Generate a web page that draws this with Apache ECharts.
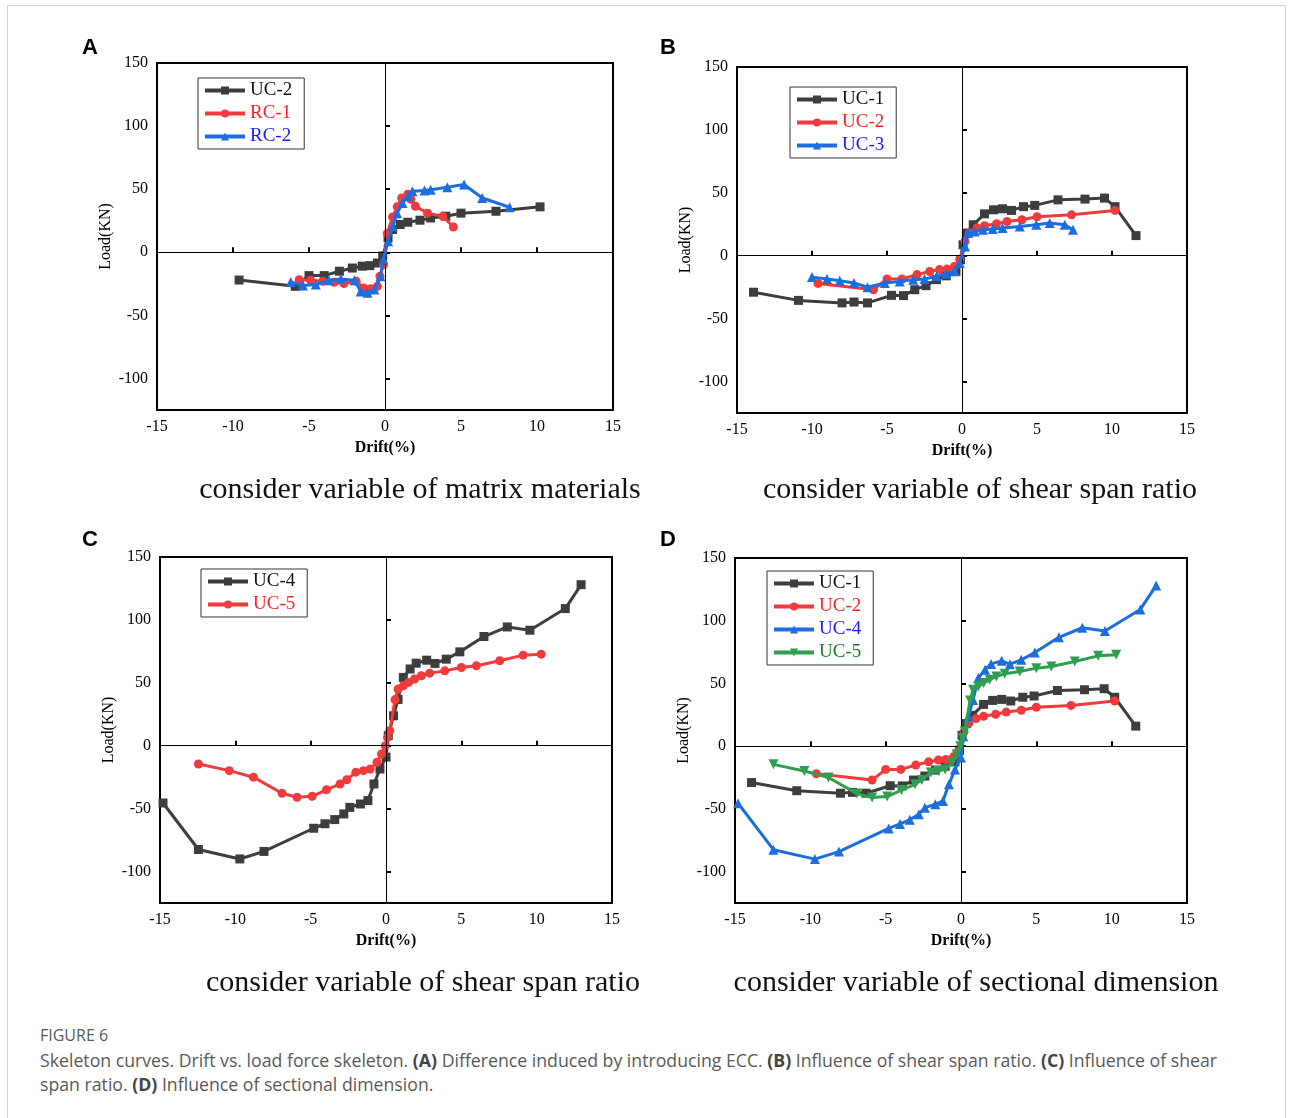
<!DOCTYPE html>
<html>
<head>
<meta charset="utf-8">
<script src="https://cdn.jsdelivr.net/npm/echarts@6/dist/echarts.min.js"></script>
<style>
  body { margin: 0; background: #fff; }
  .frame { position: absolute; left: 7px; top: 5px; width: 1277px; height: 1200px; border: 1px solid #d4d4d4; }
  #chart { position: absolute; left: 0; top: 0; width: 1291px; height: 1010px; }
  .caption { position: absolute; left: 40px; top: 1022px; font-family: 'Open Sans', sans-serif; color: #595959; white-space: nowrap; }
  .caption .fig { font-size: 16px; line-height: 26px; }
  .caption .txt { font-size: 17.7px; line-height: 24px; }
  .caption b { color: #444; }
</style>
</head>
<body>
<div class="frame"></div>
<div id="chart"></div>
<div class="caption">
  <div class="fig">FIGURE 6</div>
  <div class="txt">Skeleton curves. Drift vs. load force skeleton. <b>(A)</b> Difference induced by introducing ECC. <b>(B)</b> Influence of shear span ratio. <b>(C)</b> Influence of shear<br>span ratio. <b>(D)</b> Influence of sectional dimension.</div>
</div>
<script>
// drift (%) , load (kN)
var uc1 = [[-13.9,-29],[-10.9,-35.5],[-8.0,-37.5],[-7.2,-36.8],[-6.3,-37.5],[-4.7,-31.5],[-3.9,-31.7],[-3.15,-27],[-2.4,-23.8],[-1.7,-19],[-1.05,-16],[-0.4,-12.4],[-0.1,-3.2],[0.07,8.7],[0.35,18],[0.75,24.6],[1.5,33.3],[2.1,36.5],[2.7,37.3],[3.3,36],[4.1,39],[4.85,40],[6.4,44.4],[8.2,45],[9.5,45.8],[10.2,39],[11.6,16]]
var uc2 = [[-9.6,-22],[-5.9,-27],[-5.0,-18.5],[-4.0,-18.5],[-3.0,-15],[-2.15,-12.5],[-1.5,-11],[-1.0,-10.6],[-0.5,-8.5],[-0.15,-3],[0.2,11.4],[0.5,18],[1.0,22],[1.5,23.8],[2.3,25.4],[3.0,27.2],[4.0,28.6],[5.0,31],[7.3,32.5],[10.2,36]]
var uc3 = [[-10.0,-17],[-9.0,-18.5],[-8.15,-19.8],[-7.2,-21.7],[-6.3,-25],[-5.15,-21.7],[-4.15,-20.4],[-3.25,-19],[-2.5,-18.5],[-1.7,-16.4],[-1.05,-14.3],[-0.5,-12.4],[-0.15,-5.8],[0.2,7.4],[0.4,18],[0.85,19.3],[1.4,20.6],[2.05,21.2],[2.7,22],[3.85,23.3],[4.95,24.6],[5.85,26],[6.85,24.6],[7.4,20.6]]
var uc4 = [[-14.8,-45.5],[-12.45,-82.5],[-9.7,-90],[-8.1,-84],[-4.8,-65.6],[-4.05,-62],[-3.4,-58.7],[-2.8,-54.2],[-2.4,-49],[-1.7,-46.3],[-1.2,-43.6],[-0.8,-30.4],[-0.4,-18.5],[0,-9],[0.15,8],[0.5,23.8],[0.8,36.8],[1.15,54.3],[1.6,61],[2.0,65.6],[2.7,68],[3.25,65.4],[4.0,68.8],[4.9,74.6],[6.5,86.8],[8.05,94.4],[9.55,91.8],[11.9,109],[12.95,128]]
var uc5 = [[-12.45,-14.5],[-10.4,-19.8],[-8.8,-25],[-6.9,-37.8],[-5.9,-41],[-4.9,-40.2],[-3.95,-35],[-3.05,-30.4],[-2.6,-27],[-2.0,-21],[-1.5,-19.8],[-1.05,-18.5],[-0.6,-13.2],[-0.3,-6.6],[-0.05,0],[0.1,6.6],[0.25,12],[0.6,36.5],[0.8,45],[1.15,47.6],[1.5,50.3],[1.9,53],[2.35,55.6],[2.9,57.7],[3.9,59.5],[5.0,62.2],[6.0,63.5],[7.55,67.5],[9.1,72],[10.3,72.8]]
var rc1 = [[-5.65,-21.7],[-4.9,-22.2],[-4.1,-23],[-3.35,-23.8],[-2.7,-24.8],[-1.9,-23],[-1.4,-28.3],[-0.95,-29],[-0.5,-27],[-0.33,-19],[-0.1,-9.8],[0.15,15],[0.5,28],[0.8,36],[1.1,43],[1.5,46],[1.7,42],[2.0,36.5],[2.8,31],[3.8,28.5],[4.5,20]]
var rc2 = [[-6.2,-23.5],[-5.4,-26.4],[-4.55,-25.6],[-3.7,-22.2],[-2.9,-21.1],[-2.0,-22.2],[-1.6,-31],[-1.15,-32],[-0.7,-29.6],[-0.3,-19],[-0.1,-5.8],[0.2,8.7],[0.5,20.6],[0.8,31],[1.15,39],[1.5,44.4],[1.8,48.4],[2.6,49],[3.0,49.5],[4.1,51.6],[5.2,53.7],[6.4,43],[8.2,35.7]]

var yTicks = [-100, -50, 0, 50, 100, 150]
var subtitles = ['consider variable of matrix materials', 'consider variable of shear span ratio',
  'consider variable of shear span ratio', 'consider variable of sectional dimension']
var letters = ['A', 'B', 'C', 'D']

var SERIF = '"Liberation Serif", "Times New Roman", serif'
var styles = {
  black: { line: '#3d3d3d', text: '#111', symbol: 'rect', size: 9 },
  red: { line: '#ef3b3b', text: '#ff1f1f', symbol: 'circle', size: 9 },
  blue: { line: '#1c6de0', text: '#1a1aff', symbol: 'triangle', size: 10 },
  green: { line: '#2f9e50', text: '#1a7d22', symbol: 'path://M0,0 L10,0 L5,9 Z', size: 10 }
}

// panel layout (pixels)
var panels = [
  { grid: [157, 63, 456, 347], legend: [198, 78], sub: [420, 490], letter: [90, 48],
    lines: [['UC-2', uc2, 'black'], ['RC-1', rc1, 'red'], ['RC-2', rc2, 'blue']] },
  { grid: [737, 67, 450, 346], legend: [790, 87], sub: [980, 490], letter: [668, 48],
    lines: [['UC-1', uc1, 'black'], ['UC-2', uc2, 'red'], ['UC-3', uc3, 'blue']] },
  { grid: [160, 557, 452, 346], legend: [201, 569], sub: [423, 983], letter: [90, 540],
    lines: [['UC-4', uc4, 'black'], ['UC-5', uc5, 'red']] },
  { grid: [735, 558, 452, 345], legend: [767, 571], sub: [976, 983], letter: [668, 540],
    lines: [['UC-1', uc1, 'black'], ['UC-2', uc2, 'red'], ['UC-4', uc4, 'blue'], ['UC-5', uc5, 'green']] }
]

var grids = [], xAxes = [], yAxes = [], legends = [], series = [], graphics = []

panels.forEach(function (p, i) {
  grids.push({ left: p.grid[0], top: p.grid[1], width: p.grid[2], height: p.grid[3],
    show: true, borderColor: '#000', borderWidth: 2, backgroundColor: 'transparent' })
  xAxes.push({
    gridIndex: i, type: 'value', min: -15, max: 15, interval: 5,
    axisLine: { show: false }, splitLine: { show: false },
    axisTick: { inside: true, length: 5, lineStyle: { color: '#000', width: 2 } },
    axisLabel: { color: '#000', fontFamily: SERIF, fontSize: 16, margin: 9 },
    name: 'Drift(%)', nameLocation: 'middle', nameGap: 30,
    nameTextStyle: { color: '#000', fontFamily: SERIF, fontSize: 16, fontWeight: 'bold' }
  })
  yAxes.push({
    gridIndex: i, type: 'value', min: -125, max: 150,
    axisLine: { show: false }, splitLine: { show: false },
    axisTick: { inside: true, length: 5, customValues: yTicks, lineStyle: { color: '#000', width: 2 } },
    axisLabel: { color: '#000', fontFamily: SERIF, fontSize: 16, margin: 9, customValues: yTicks },
    name: 'Load(KN)', nameLocation: 'middle', nameGap: 43,
    nameTextStyle: { color: '#000', fontFamily: SERIF, fontSize: 16 }
  })
  var legendData = []
  p.lines.forEach(function (l, k) {
    var st = styles[l[2]]
    var name = letters[i] + ' ' + l[0]
    legendData.push({ name: name, textStyle: { color: st.text } })
    var s = {
      name: name, type: 'line', xAxisIndex: i, yAxisIndex: i, data: l[1],
      symbol: st.symbol, symbolSize: st.size, showSymbol: true,
      lineStyle: { color: st.line, width: 3 }, itemStyle: { color: st.line },
      z: 3 + k, silent: true, animation: false
    }
    if (k === 0) {
      s.markLine = {
        silent: true, symbol: 'none', label: { show: false }, animation: false,
        lineStyle: { color: '#000', width: 1, type: 'solid' },
        data: [{ xAxis: 0 }, { yAxis: 0 }]
      }
    }
    series.push(s)
  })
  legends.push({
    left: p.legend[0], top: p.legend[1], orient: 'vertical',
    data: legendData, itemWidth: 40, itemHeight: 10, itemGap: 4,
    lineStyle: { width: 4 },
    borderColor: '#333', borderWidth: 1, padding: [3, 12, 3, 5], selectedMode: false,
    formatter: function (n) { return n.slice(2) },
    textStyle: { fontFamily: SERIF, fontSize: 19 }
  })
  graphics.push({ type: 'text', x: p.sub[0], y: p.sub[1],
    style: { text: subtitles[i], font: '30px ' + SERIF, fill: '#111', align: 'center', verticalAlign: 'middle' } })
  graphics.push({ type: 'text', x: p.letter[0], y: p.letter[1],
    style: { text: letters[i], font: 'bold 22px "Liberation Sans", Arial, sans-serif', fill: '#000', align: 'center', verticalAlign: 'middle' } })
})

var myChart = echarts.init(document.getElementById('chart'))
myChart.setOption({
  animation: false,
  grid: grids,
  xAxis: xAxes,
  yAxis: yAxes,
  legend: legends,
  series: series,
  graphic: graphics
})
</script>
</body>
</html>
